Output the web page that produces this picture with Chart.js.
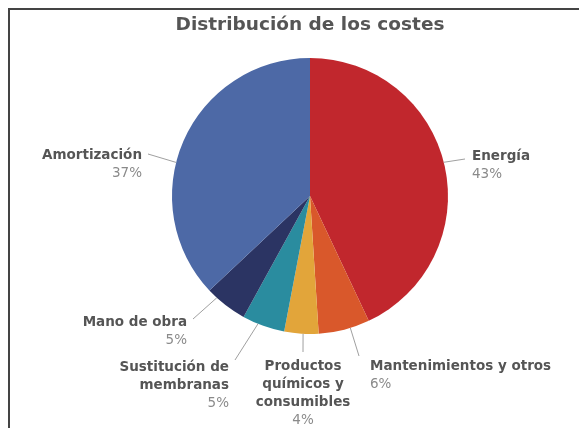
<!DOCTYPE html>
<html>
<head>
<meta charset="utf-8">
<script src="https://cdn.jsdelivr.net/npm/chart.js@4"></script>
<style>
  html, body { margin: 0; padding: 0; background: #fff; overflow: hidden; }
</style>
</head>
<body>
<canvas id="pieChart" width="579" height="428"></canvas>
<script>
const title = 'Distribución de los costes';
const categories = ['Energía', 'Mantenimientos y otros', 'Productos químicos y consumibles',
                    'Sustitución de membranas', 'Mano de obra', 'Amortización'];
const labelLines = [['Energía'], ['Mantenimientos y otros'], ['Productos', 'químicos y', 'consumibles'],
                    ['Sustitución de', 'membranas'], ['Mano de obra'], ['Amortización']];
const shares = [43, 6, 4, 5, 5, 37];
const colors = ['#c1272d', '#d9582b', '#e2a53a', '#2a8c9f', '#2b3463', '#4d69a6'];

const FONT = '"DejaVu Sans", sans-serif';

// where each label sits, and where its leader line meets the pie (fraction across the slice)
const labelLayout = [
  { x: 472, y: 156, align: 'left',   frac: 0.49, to: [465, 159] },
  { x: 370, y: 366, align: 'left',   frac: 0.38, to: [359, 356] },
  { x: 303, y: 366, align: 'center', frac: 0.45, to: [303, 352] },
  { x: 229, y: 367, align: 'right',  frac: 0.63, to: [235, 360] },
  { x: 187, y: 322, align: 'right',  frac: 0.76, to: [193, 319] },
  { x: 142, y: 155, align: 'right',  frac: 0.43, to: [148, 154] }
];

const labelPlugin = {
  id: 'pieLabels',
  beforeDraw(chart) {
    // page frame: top and left edges only
    const ctx = chart.ctx;
    ctx.save();
    ctx.fillStyle = '#fff';
    ctx.fillRect(0, 0, chart.width, chart.height);
    ctx.strokeStyle = '#444';
    ctx.lineWidth = 2;
    ctx.beginPath();
    ctx.moveTo(9, chart.height);
    ctx.lineTo(9, 9);
    ctx.lineTo(chart.width, 9);
    ctx.stroke();
    ctx.restore();
  },
  afterDraw(chart) {
    const ctx = chart.ctx;
    ctx.save();
    ctx.font = 'bold 18.5px ' + FONT;
    ctx.fillStyle = '#555';
    ctx.textAlign = 'center';
    ctx.textBaseline = 'middle';
    ctx.fillText(title, 310, 25);

    const arcs = chart.getDatasetMeta(0).data;
    arcs.forEach((arc, i) => {
      const lay = labelLayout[i];
      const a = arc.startAngle + lay.frac * (arc.endAngle - arc.startAngle);
      const px = arc.x + Math.cos(a) * arc.outerRadius;
      const py = arc.y + Math.sin(a) * arc.outerRadius;
      ctx.strokeStyle = '#a0a0a0';
      ctx.lineWidth = 1;
      ctx.beginPath();
      ctx.moveTo(px, py);
      ctx.lineTo(lay.to[0], lay.to[1]);
      ctx.stroke();

      ctx.textAlign = lay.align;
      ctx.textBaseline = 'middle';
      let y = lay.y;
      ctx.font = 'bold 13.5px ' + FONT;
      ctx.fillStyle = '#555';
      labelLines[i].forEach(line => {
        ctx.fillText(line, lay.x, y);
        y += 18;
      });
      ctx.font = '13.5px ' + FONT;
      ctx.fillStyle = '#8a8a8a';
      ctx.fillText(shares[i] + '%', lay.x, y);
    });
    ctx.restore();
  }
};

new Chart(document.getElementById('pieChart').getContext('2d'), {
  type: 'pie',
  data: {
    labels: categories,
    datasets: [{
      data: shares,
      backgroundColor: colors,
      borderWidth: 0
    }]
  },
  options: {
    responsive: false,
    animation: false,
    layout: { padding: { left: 172, right: 131, top: 58, bottom: 94 } },
    plugins: {
      legend: { display: false },
      tooltip: { enabled: false },
      title: { display: false }
    }
  },
  plugins: [labelPlugin]
});
</script>
</body>
</html>
